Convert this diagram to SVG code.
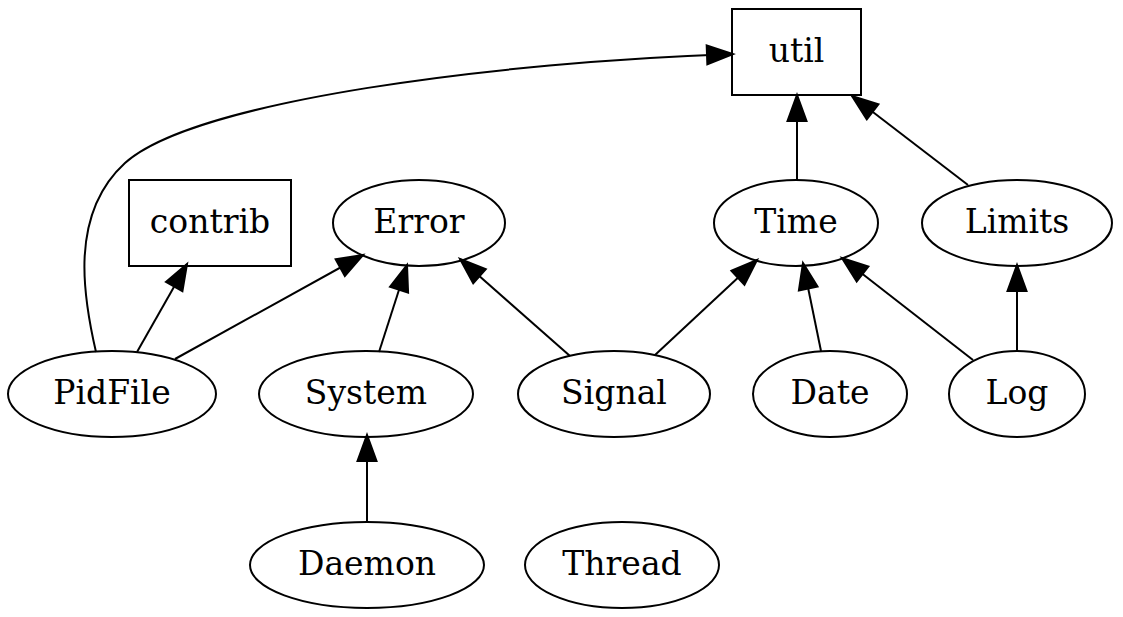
<svg xmlns="http://www.w3.org/2000/svg" width="1123" height="617" viewBox="0 0 1123 617">
<style>
.n ellipse, .n rect { fill: none; stroke: #000; stroke-width: 2; }
.n text { font-family: "DejaVu Serif", "Liberation Serif", serif; font-size: 33px; text-anchor: middle; fill: #000; }
.e path { fill: none; stroke: #000; stroke-width: 2; marker-end: url(#ah); }
</style>
<defs>
<marker id="ah" markerUnits="userSpaceOnUse" markerWidth="28" markerHeight="20" refX="26" refY="9.5" orient="auto" overflow="visible">
<path d="M0,0 L26,9.5 L0,19 Z" fill="#000" stroke="#000" stroke-width="2"/>
</marker>
</defs>
<rect width="1123" height="617" fill="#fff"/>
<g id="edges" class="e">
<path d="M96,352 C84,300 68,215 125,163 C195,100 500,62 733,54"/>
<path d="M137,352 L187,264"/>
<path d="M175,359 L363,255"/>
<path d="M379,352 L407,265"/>
<path d="M570,356 L460,259"/>
<path d="M655,355 L757,260"/>
<path d="M821,351 L803,263"/>
<path d="M973,360 L842,258"/>
<path d="M1017,352 L1017,265"/>
<path d="M797,180 L797,95"/>
<path d="M968,185 L852,96"/>
<path d="M367,522 L367,435"/>
</g>
<g id="util" class="n"><rect x="732" y="9" width="129" height="86"/><text x="796.5" y="62">util</text></g>
<g id="contrib" class="n"><rect x="129" y="180" width="162" height="86"/><text x="210" y="233">contrib</text></g>
<g id="Error" class="n"><ellipse cx="419" cy="223" rx="86" ry="43"/><text x="419" y="233">Error</text></g>
<g id="Time" class="n"><ellipse cx="796" cy="223" rx="82" ry="43"/><text x="796" y="233">Time</text></g>
<g id="Limits" class="n"><ellipse cx="1017" cy="223" rx="95" ry="43"/><text x="1017" y="233">Limits</text></g>
<g id="PidFile" class="n"><ellipse cx="112" cy="394" rx="104" ry="43"/><text x="112" y="404">PidFile</text></g>
<g id="System" class="n"><ellipse cx="366" cy="394" rx="107" ry="43"/><text x="366" y="404">System</text></g>
<g id="Signal" class="n"><ellipse cx="614" cy="394" rx="96" ry="43"/><text x="614" y="404">Signal</text></g>
<g id="Date" class="n"><ellipse cx="830" cy="394" rx="77" ry="43"/><text x="830" y="404">Date</text></g>
<g id="Log" class="n"><ellipse cx="1017" cy="394" rx="68" ry="43"/><text x="1017" y="404">Log</text></g>
<g id="Daemon" class="n"><ellipse cx="367" cy="565" rx="117" ry="43"/><text x="367" y="575">Daemon</text></g>
<g id="Thread" class="n"><ellipse cx="622" cy="565" rx="97" ry="43"/><text x="622" y="575">Thread</text></g>
</svg>
